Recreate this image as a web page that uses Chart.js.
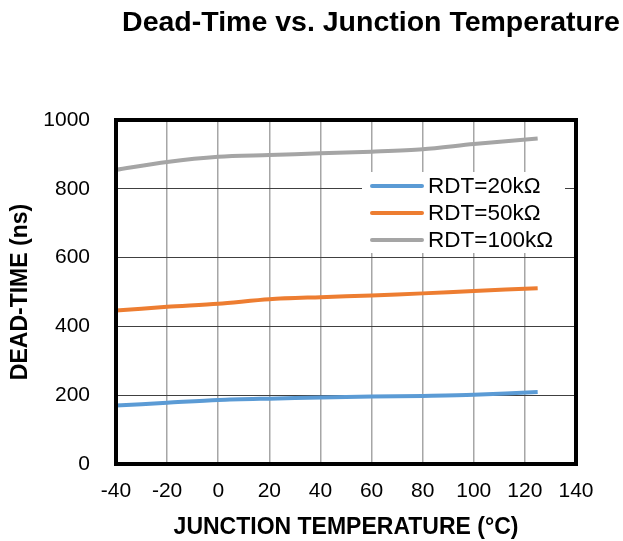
<!DOCTYPE html>
<html>
<head>
<meta charset="utf-8">
<script src="https://cdn.jsdelivr.net/npm/chart.js@4"></script>
<style>
  body { margin: 0; background: #fff; }
</style>
</head>
<body>
<canvas id="dtChart" width="623" height="541"></canvas>
<script>
const temps = [-40, -20, 0, 20, 40, 60, 80, 100, 125];
const rdt20k = [170, 178, 186, 190, 193, 196, 198, 201, 209];
const rdt50k = [446, 457, 466, 479, 485, 490, 496, 503, 511];
const rdt100k = [855, 878, 893, 898, 903, 908, 915, 930, 946];
const seriesLabels = ["RDT=20k\u03A9", "RDT=50k\u03A9", "RDT=100k\u03A9"];
const xTicks = [-40, -20, 0, 20, 40, 60, 80, 100, 120, 140];
const yTicks = [0, 200, 400, 600, 800, 1000];

const FONT = '"Liberation Sans", Arial, sans-serif';

function toPoints(values) {
    return temps.map((t, i) => ({ x: t, y: values[i] }));
}

// title, legend box and the heavy frame around the plot
const decorations = {
    id: "decorations",
    afterDatasetsDraw(chart) {
        const ctx = chart.ctx;
        const area = chart.chartArea;
        ctx.save();

        // legend inside the plot
        const lx = 362, ly = 172, lw = 203, lh = 81;
        ctx.fillStyle = "#fff";
        ctx.fillRect(lx, ly, lw, lh);
        ctx.font = "22.5px " + FONT;
        ctx.textBaseline = "middle";
        ctx.textAlign = "left";
        chart.data.datasets.forEach((ds, i) => {
            const y = 186 + i * 27;
            ctx.strokeStyle = ds.borderColor;
            ctx.lineWidth = 4;
            ctx.lineCap = "round";
            ctx.beginPath();
            ctx.moveTo(372, y);
            ctx.lineTo(422, y);
            ctx.stroke();
            ctx.fillStyle = "#000";
            ctx.fillText(ds.label, 428, y + 1);
        });

        // frame
        ctx.strokeStyle = "#000";
        ctx.lineWidth = 4;
        ctx.lineCap = "butt";
        ctx.strokeRect(area.left, area.top, area.right - area.left, area.bottom - area.top);

        // chart title
        ctx.fillStyle = "#000";
        ctx.font = "bold 28.5px " + FONT;
        ctx.textAlign = "center";
        ctx.fillText("Dead-Time vs. Junction Temperature", 371, 23);
        ctx.restore();
    }
};

const colors = ["#5B9BD5", "#ED7D31", "#A5A5A5"];

new Chart(document.getElementById("dtChart").getContext("2d"), {
    type: "line",
    data: {
        datasets: [rdt20k, rdt50k, rdt100k].map((vals, i) => ({
            label: seriesLabels[i],
            data: toPoints(vals),
            borderColor: colors[i],
            backgroundColor: colors[i],
            borderWidth: 4,
            pointRadius: 0,
            tension: 0.3,
            fill: false
        }))
    },
    options: {
        responsive: false,
        animation: false,
        layout: { padding: { top: 120, right: 47, left: 0, bottom: 0 } },
        plugins: {
            legend: { display: false },
            title: { display: false },
            tooltip: { enabled: false }
        },
        scales: {
            x: {
                type: "linear",
                min: -40,
                max: 140,
                afterBuildTicks: (scale) => { scale.ticks = xTicks.map(v => ({ value: v })); },
                afterFit: (scale) => { scale.height = 77; },
                grid: { color: "#a6a6a6", lineWidth: 1.5, drawTicks: false },
                border: { display: false },
                ticks: {
                    color: "#000",
                    font: { family: FONT, size: 21 },
                    padding: 15,
                    maxRotation: 0,
                    callback: (v) => String(v)
                },
                title: {
                    display: true,
                    text: "JUNCTION TEMPERATURE (\u00B0C)",
                    color: "#000",
                    font: { family: FONT, size: 23, weight: "bold" },
                    padding: { top: 0, bottom: 0 }
                }
            },
            y: {
                min: 0,
                max: 1000,
                afterBuildTicks: (scale) => { scale.ticks = yTicks.map(v => ({ value: v })); },
                afterFit: (scale) => { scale.width = 116; },
                grid: { color: "#404040", lineWidth: 1, drawTicks: false },
                border: { display: false },
                ticks: {
                    color: "#000",
                    font: { family: FONT, size: 21 },
                    padding: 26,
                    callback: (v) => String(v)
                },
                title: {
                    display: true,
                    text: "DEAD-TIME (ns)",
                    color: "#000",
                    font: { family: FONT, size: 23, weight: "bold" },
                    padding: { top: 7, bottom: 0 }
                }
            }
        }
    },
    plugins: [decorations]
});
</script>
</body>
</html>
